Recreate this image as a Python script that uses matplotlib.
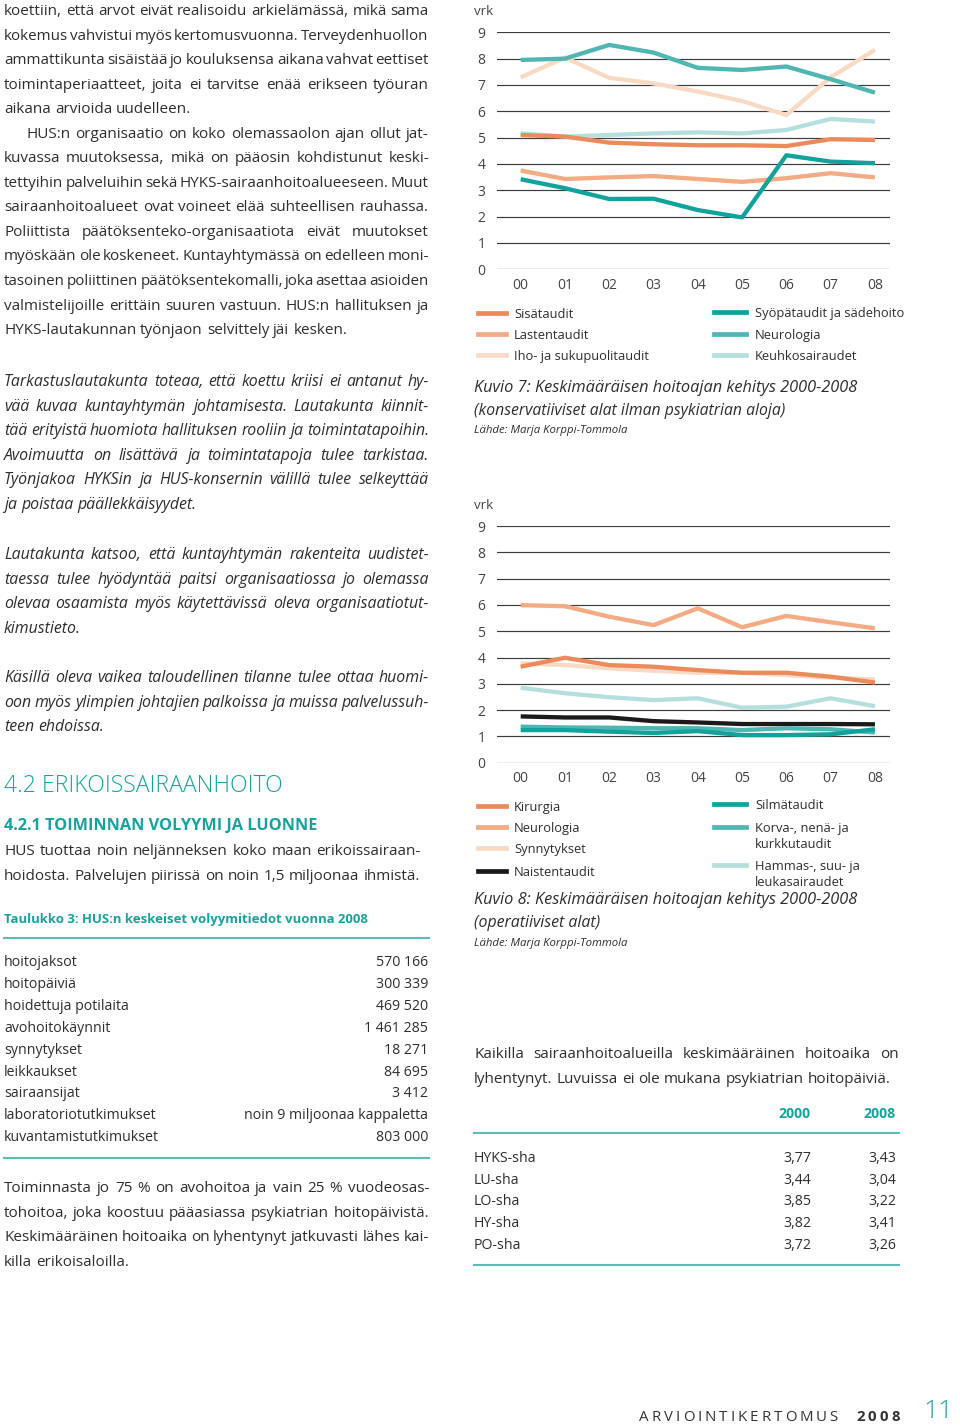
#!/usr/bin/env python3
"""Arviointikertomus 2008, s. 11 - keskimääräisen hoitoajan kehitys (Kuvio 7 ja 8)."""
import matplotlib
matplotlib.use('Agg')
import matplotlib.pyplot as plt
from matplotlib.lines import Line2D

W, H = 960, 1426
plt.rcParams['font.family'] = ['Open Sans', 'DejaVu Sans']

TXT = '#2e2e2e'
TEAL = '#17a39c'
RULE = '#5cbcb6'
GRID = '#3c3c3c'
TICK = '#444444'
C_OR1, C_OR2, C_OR3 = '#ec8a5c', '#f2ab83', '#f8d9c4'
C_TE1, C_TE2, C_TE3 = '#10a29b', '#4fb6b1', '#b5dfdc'
C_BLK = '#1a1a1a'

years = ['00', '01', '02', '03', '04', '05', '06', '07', '08']
vrk_ticks = [0, 1, 2, 3, 4, 5, 6, 7, 8, 9]

# Kuvio 7 (konservatiiviset alat)
k7_sisa = [5.10, 5.04, 4.81, 4.75, 4.71, 4.71, 4.68, 4.94, 4.91]
k7_lasten = [3.75, 3.43, 3.49, 3.54, 3.43, 3.32, 3.46, 3.65, 3.49]
k7_iho = [7.29, 8.04, 7.27, 7.06, 6.75, 6.39, 5.86, 7.29, 8.33]
k7_syopa = [3.42, 3.08, 2.67, 2.68, 2.25, 1.97, 4.33, 4.09, 4.03]
k7_neuro = [7.95, 8.00, 8.52, 8.23, 7.65, 7.57, 7.70, 7.22, 6.71]
k7_keuhko = [5.16, 5.04, 5.10, 5.16, 5.20, 5.16, 5.29, 5.71, 5.61]

# Kuvio 8 (operatiiviset alat)
k8_kirurgia = [3.65, 3.99, 3.71, 3.65, 3.52, 3.42, 3.42, 3.27, 3.05]
k8_neuro = [5.99, 5.95, 5.55, 5.23, 5.87, 5.15, 5.58, 5.34, 5.11]
k8_synny = [3.78, 3.71, 3.59, 3.50, 3.42, 3.42, 3.33, 3.24, 3.16]
k8_naisten = [1.76, 1.72, 1.72, 1.58, 1.53, 1.47, 1.47, 1.47, 1.46]
k8_silma = [1.24, 1.24, 1.18, 1.13, 1.20, 1.05, 1.05, 1.08, 1.27]
k8_korva = [1.37, 1.34, 1.33, 1.31, 1.31, 1.24, 1.31, 1.27, 1.15]
k8_hammas = [2.85, 2.64, 2.49, 2.38, 2.45, 2.09, 2.13, 2.45, 2.15]

# Taulukko 3
t3_rows = ['hoitojaksot', 'hoitopäiviä', 'hoidettuja potilaita', 'avohoitokäynnit',
           'synnytykset', 'leikkaukset', 'sairaansijat', 'laboratoriotutkimukset',
           'kuvantamistutkimukset']
t3_vals = ['570 166', '300 339', '469 520', '1 461 285', '18 271', '84 695', '3 412',
           'noin 9 miljoonaa kappaletta', '803 000']

# hoitoaika sairaanhoitoalueittain
sha_names = ['HYKS-sha', 'LU-sha', 'LO-sha', 'HY-sha', 'PO-sha']
sha_2000 = [3.77, 3.44, 3.85, 3.82, 3.72]
sha_2008 = [3.43, 3.04, 3.22, 3.41, 3.26]

# body text: (line, justified?)
par1 = [
    ("koettiin, että arvot eivät realisoidu arkielämässä, mikä sama", True),
    ("kokemus vahvistui myös kertomusvuonna. Terveydenhuollon", True),
    ("ammattikunta sisäistää jo kouluksensa aikana vahvat eettiset", True),
    ("toimintaperiaatteet, joita ei tarvitse enää erikseen työuran", True),
    ("aikana arvioida uudelleen.", False),
    ("HUS:n organisaatio on koko olemassaolon ajan ollut jat-", True),
    ("kuvassa muutoksessa, mikä on pääosin kohdistunut keski-", True),
    ("tettyihin palveluihin sekä HYKS-sairaanhoitoalueeseen. Muut", True),
    ("sairaanhoitoalueet ovat voineet elää suhteellisen rauhassa.", True),
    ("Poliittista päätöksenteko-organisaatiota eivät muutokset", True),
    ("myöskään ole koskeneet. Kuntayhtymässä on edelleen moni-", True),
    ("tasoinen poliittinen päätöksentekomalli, joka asettaa asioiden", True),
    ("valmistelijoille erittäin suuren vastuun. HUS:n hallituksen ja", True),
    ("HYKS-lautakunnan työnjaon selvittely jäi kesken.", False),
]
par2 = [
    ("Tarkastuslautakunta toteaa, että koettu kriisi ei antanut hy-", True),
    ("vää kuvaa kuntayhtymän johtamisesta. Lautakunta kiinnit-", True),
    ("tää erityistä huomiota hallituksen rooliin ja toimintatapoihin.", True),
    ("Avoimuutta on lisättävä ja toimintatapoja tulee tarkistaa.", True),
    ("Työnjakoa HYKSin ja HUS-konsernin välillä tulee selkeyttää", True),
    ("ja poistaa päällekkäisyydet.", False),
]
par3 = [
    ("Lautakunta katsoo, että kuntayhtymän rakenteita uudistet-", True),
    ("taessa tulee hyödyntää paitsi organisaatiossa jo olemassa", True),
    ("olevaa osaamista myös käytettävissä oleva organisaatiotut-", True),
    ("kimustieto.", False),
]
par4 = [
    ("Käsillä oleva vaikea taloudellinen tilanne tulee ottaa huomi-", True),
    ("oon myös ylimpien johtajien palkoissa ja muissa palvelussuh-", True),
    ("teen ehdoissa.", False),
]
par5 = [
    ("HUS tuottaa noin neljänneksen koko maan erikoissairaan-", True),
    ("hoidosta. Palvelujen piirissä on noin 1,5 miljoonaa ihmistä.", False),
]
par6 = [
    ("Toiminnasta jo 75 % on avohoitoa ja vain 25 % vuodeosas-", True),
    ("tohoitoa, joka koostuu pääasiassa psykiatrian hoitopäivistä.", True),
    ("Keskimääräinen hoitoaika on lyhentynyt jatkuvasti lähes kai-", True),
    ("killa erikoisaloilla.", False),
]
par7 = [
    ("Kaikilla sairaanhoitoalueilla keskimääräinen hoitoaika on", True),
    ("lyhentynyt. Luvuissa ei ole mukana psykiatrian hoitopäiviä.", False),
]

fig = plt.figure(figsize=(W / 100, H / 100), dpi=100)
R = fig.canvas.get_renderer()
BODY = 11.0
BODY_IT = 11.4
ROW = 10.2
LEG = 9.3
MINGAP = 0.45


def fx(x): return x / W
def fy(y): return 1 - y / H


def txt(x, y, s, **kw):
    kw.setdefault('color', TXT)
    kw.setdefault('va', 'baseline')
    return fig.text(fx(x), fy(y), s, **kw)


def width(t):
    return t.get_window_extent(renderer=R).width


def words_line(x0, x1, yb, words, size, justify=True, **kw):
    ts = [txt(x0, yb, w, fontsize=size, **kw) for w in words]
    ws = [width(t) for t in ts]
    probe = txt(0, -50, 'n n', fontsize=size, **kw)
    probe2 = txt(0, -50, 'nn', fontsize=size, **kw)
    sp = width(probe) - width(probe2)
    probe.remove(); probe2.remove()
    n = len(ws)
    gap = sp
    room = (x1 - x0 - sum(ws)) / (n - 1) if n > 1 else sp
    if justify and n > 1:
        gap = room
    if n > 1 and room < MINGAP * sp:
        f = (x1 - x0) / (sum(ws) + MINGAP * sp * (n - 1))
        for t in ts:
            t.set_fontsize(size * f)
        ws = [w * f for w in ws]
        gap = (x1 - x0 - sum(ws)) / (n - 1)
    x = x0
    for t, w in zip(ts, ws):
        t.set_x(fx(x))
        x += w + gap


def paragraph(lines, x0, x1, y0, step=24.55, indent_first=0, size=None, **kw):
    for i, (s, j) in enumerate(lines):
        xs = x0 + (indent_first if i == 0 else 0)
        words_line(xs, x1, y0 + i * step, s.split(), size or BODY, j, **kw)


def fit(x0, x1, yb, s, **kw):
    t = txt(x0, yb, s, fontsize=10, **kw)
    t.set_fontsize(10 * (x1 - x0) / width(t))
    return t


# ---- left column text
paragraph(par1[:5], 4, 429, 15)
paragraph(par1[5:], 4, 429, 15 + 5 * 24.55, indent_first=22)
paragraph(par2, 4, 429, 386, size=BODY_IT, style='italic')
paragraph(par3, 4, 429, 559, size=BODY_IT, style='italic')
paragraph(par4, 4, 429, 682, size=BODY_IT, style='italic')

fit(4, 283, 792, '4.2 ERIKOISSAIRAANHOITO', color=TEAL, weight='light')
fit(4, 315, 830, '4.2.1 TOIMINNAN VOLYYMI JA LUONNE', color=TEAL, weight='bold')
paragraph(par5, 4, 421, 855)

fit(4, 367, 923, 'Taulukko 3: HUS:n keskeiset volyymitiedot vuonna 2008', color=TEAL, weight='bold')
for yy in (938, 1158):
    fig.add_artist(Line2D([fx(4), fx(429)], [fy(yy)] * 2, color=RULE, lw=1.5))
for i, (lab, val) in enumerate(zip(t3_rows, t3_vals)):
    yb = 966 + i * 21.9
    txt(4, yb, lab, fontsize=ROW)
    txt(428, yb, val, fontsize=ROW, ha='right')

paragraph(par6, 4, 429, 1192)


# ---- charts
def chart(top, bottom, series, legend_l, legend_r, ly):
    ax = fig.add_axes([fx(497), fy(bottom), (890 - 497) / W, (bottom - top) / H])
    x = list(range(len(years)))
    for vals, col in series:
        ax.plot(x, vals, color=col, lw=3.1, solid_capstyle='butt', clip_on=False, zorder=3)
    for v in vrk_ticks:
        ax.axhline(v, color=GRID, lw=0.85, zorder=1)
    ax.set_ylim(0, 9)
    ax.set_xlim(-0.535, 8.34)
    ax.set_xticks(x, years)
    ax.set_yticks(vrk_ticks)
    ax.tick_params(axis='both', length=0, labelsize=10, labelcolor=TICK)
    ax.tick_params(axis='y', pad=8.3)
    ax.tick_params(axis='x', pad=6.0)
    for s in ax.spines.values():
        s.set_visible(False)
    ax.patch.set_alpha(0)
    txt(474, top - 17, 'vrk', fontsize=9.6, color=TICK)
    for (labs, col), yy in zip(legend_l, ly[0]):
        fig.add_artist(Line2D([fx(478), fx(506)], [fy(yy)] * 2, color=col, lw=3.4))
        txt(514, yy + 5, labs, fontsize=LEG)
    for (labs, col), yy in zip(legend_r, ly[1]):
        fig.add_artist(Line2D([fx(714), fx(746)], [fy(yy)] * 2, color=col, lw=3.4))
        for k, part in enumerate(labs.split('\n')):
            txt(755, yy + 5 + k * 16, part, fontsize=LEG)
    return ax


chart(32.3, 269.3,
      [(k7_iho, C_OR3), (k7_keuhko, C_TE3), (k7_lasten, C_OR2), (k7_sisa, C_OR1),
       (k7_neuro, C_TE2), (k7_syopa, C_TE1)],
      [('Sisätaudit', C_OR1), ('Lastentaudit', C_OR2), ('Iho- ja sukupuolitaudit', C_OR3)],
      [('Syöpätaudit ja sädehoito', C_TE1), ('Neurologia', C_TE2), ('Keuhkosairaudet', C_TE3)],
      ([313, 334, 355], [312, 334, 355]))
fit(474, 858, 392, 'Kuvio 7: Keskimääräisen hoitoajan kehitys 2000-2008', style='italic')
fit(474, 786, 415, '(konservatiiviset alat ilman psykiatrian aloja)', style='italic')
fit(474, 627, 433, 'Lähde: Marja Korppi-Tommola', style='italic')

chart(526, 762.7,
      [(k8_hammas, C_TE3), (k8_synny, C_OR3), (k8_neuro, C_OR2), (k8_kirurgia, C_OR1),
       (k8_naisten, C_BLK), (k8_korva, C_TE2), (k8_silma, C_TE1)],
      [('Kirurgia', C_OR1), ('Neurologia', C_OR2), ('Synnytykset', C_OR3), ('Naistentaudit', C_BLK)],
      [('Silmätaudit', C_TE1), ('Korva-, nenä- ja\nkurkkutaudit', C_TE2),
       ('Hammas-, suu- ja\nleukasairaudet', C_TE3)],
      ([806, 827, 848, 871], [804, 827, 865]))
fit(474, 858, 904, 'Kuvio 8: Keskimääräisen hoitoajan kehitys 2000-2008', style='italic')
fit(474, 600, 927, '(operatiiviset alat)', style='italic')
fit(474, 627, 946, 'Lähde: Marja Korppi-Tommola', style='italic')

# ---- right column table
paragraph(par7, 474, 899, 1058)
txt(811, 1118, '2000', fontsize=10.2, weight='bold', color=TEAL, ha='right')
txt(896, 1118, '2008', fontsize=10.2, weight='bold', color=TEAL, ha='right')
for yy in (1133, 1265):
    fig.add_artist(Line2D([fx(474), fx(899)], [fy(yy)] * 2, color=RULE, lw=1.5))
for i, (n, a, b) in enumerate(zip(sha_names, sha_2000, sha_2008)):
    yb = 1162 + i * 21.7
    txt(474, yb, n, fontsize=ROW)
    txt(811, yb, f'{a:.2f}'.replace('.', ','), fontsize=ROW, ha='right')
    txt(896, yb, f'{b:.2f}'.replace('.', ','), fontsize=ROW, ha='right')

# ---- footer
words_line(639, 838, 1421, list('ARVIOINTIKERTOMUS'), 10.8, True, color='#333333')
words_line(856, 900, 1421, list('2008'), 10.8, True, color='#333333', weight='bold')
txt(953, 1412, '11', fontsize=19, color=TEAL, weight='light', ha='right', va='center')

fig.savefig('out.png', dpi=100)
